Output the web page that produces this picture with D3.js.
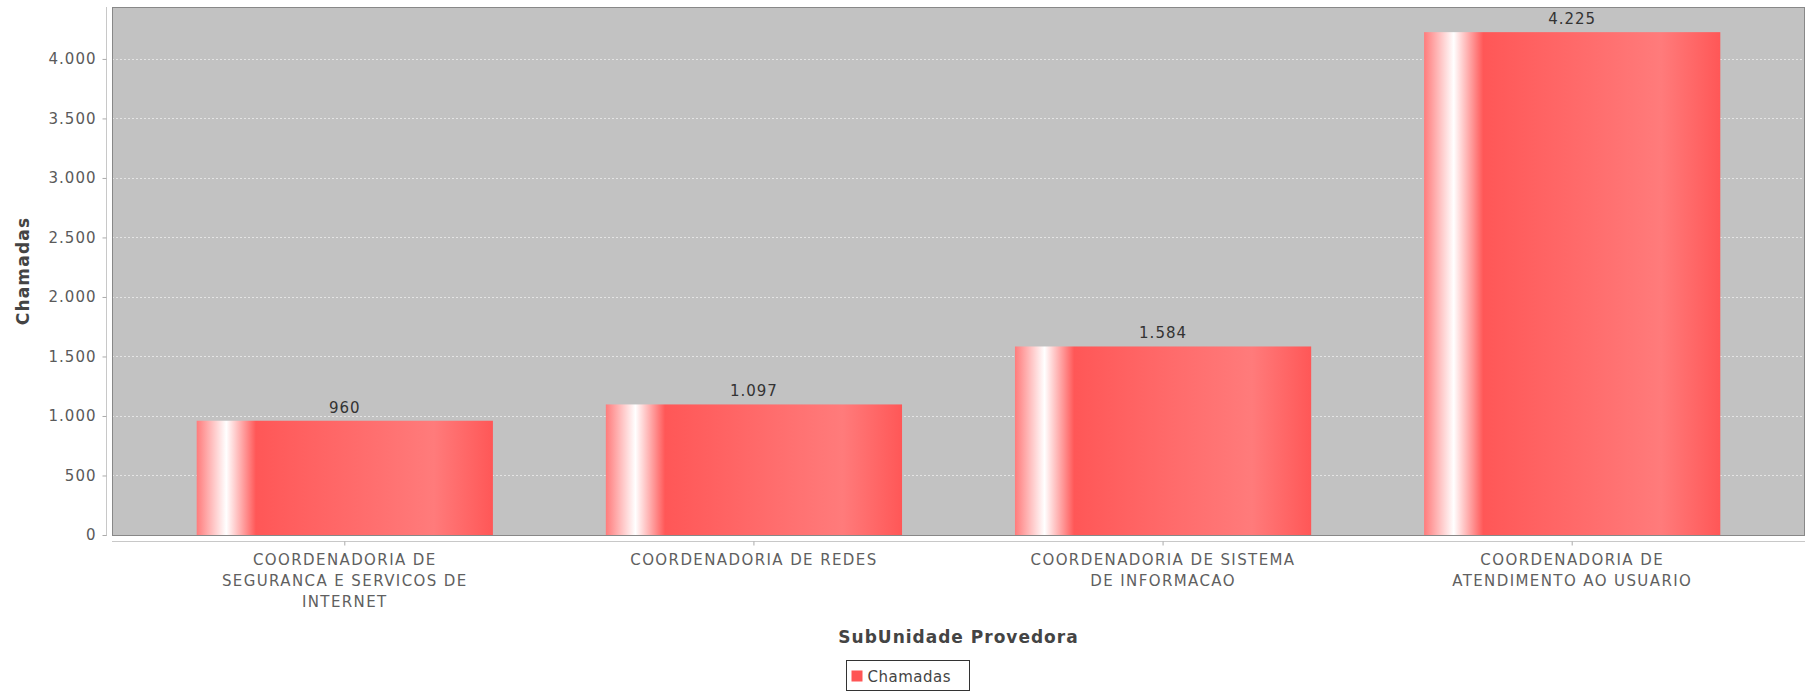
<!DOCTYPE html>
<html>
<head>
<meta charset="utf-8">
<script src="https://cdn.jsdelivr.net/npm/d3@7"></script>
<style>
  body { margin: 0; background: #fff; }
  text { font-family: "DejaVu Sans", sans-serif; }
</style>
</head>
<body>
<svg id="chart" width="1810" height="691"></svg>
<script>
// data
var categories = [
	["COORDENADORIA DE", "SEGURANCA E SERVICOS DE", "INTERNET"],
	["COORDENADORIA DE REDES"],
	["COORDENADORIA DE SISTEMA", "DE INFORMACAO"],
	["COORDENADORIA DE", "ATENDIMENTO AO USUARIO"]
];
var chamadas = [960, 1097, 1584, 4225];
var yTicks = [0, 500, 1000, 1500, 2000, 2500, 3000, 3500, 4000];
var seriesName = "Chamadas";
var xTitle = "SubUnidade Provedora";
var yTitle = "Chamadas";

var svg = d3.select("#chart"),
	plotLeft = 112, plotRight = 1805, plotTop = 7, plotBottom = 535;

var fmt = function(v) { return d3.format(",")(v).replace(/,/g, "."); };

var x = d3.scaleBand()
	.domain(d3.range(categories.length))
	.range([plotLeft, plotRight])
	.paddingInner(0.276)
	.paddingOuter(0.207);

var y = d3.scaleLinear()
	.domain([0, d3.max(chamadas) * 1.05])
	.range([plotBottom, plotTop]);

// bar gradient (jfreechart style)
var defs = svg.append("defs");
var grad = defs.append("linearGradient").attr("id", "barGrad")
	.attr("x1", "0").attr("x2", "1").attr("y1", "0").attr("y2", "0");
[[0, "#ff7b7b"], [0.1, "#ffffff"], [0.2, "#ff5757"], [0.8, "#ff7b7b"], [1, "#ff5757"]]
	.forEach(function(s) {
		grad.append("stop").attr("offset", s[0]).attr("stop-color", s[1]);
	});

// plot background
svg.append("rect")
	.attr("x", plotLeft).attr("y", plotTop)
	.attr("width", plotRight - plotLeft).attr("height", plotBottom - plotTop)
	.attr("fill", "#c2c2c2");

// gridlines
svg.append("g").selectAll("line")
	.data(yTicks.filter(function(d) { return d > 0; }))
	.enter().append("line")
		.attr("x1", plotLeft).attr("x2", plotRight)
		.attr("y1", function(d) { return Math.round(y(d)) + 0.5; })
		.attr("y2", function(d) { return Math.round(y(d)) + 0.5; })
		.attr("stroke", "#e4e4e4")
		.attr("stroke-width", 1)
		.attr("stroke-dasharray", "2,2");

// bars
svg.append("g").selectAll("rect")
	.data(chamadas)
	.enter().append("rect")
		.attr("x", function(d, i) { return x(i); })
		.attr("y", function(d) { return y(d); })
		.attr("width", x.bandwidth())
		.attr("height", function(d) { return plotBottom - y(d); })
		.attr("fill", "url(#barGrad)");

// value labels
svg.append("g").selectAll("text")
	.data(chamadas)
	.enter().append("text")
		.attr("x", function(d, i) { return x(i) + x.bandwidth() / 2; })
		.attr("y", function(d) { return y(d) - 8; })
		.attr("text-anchor", "middle")
		.attr("font-size", "15px")
		.attr("letter-spacing", "1px")
		.attr("fill", "#333")
		.text(fmt);

// plot outline
svg.append("rect")
	.attr("x", plotLeft + 0.5).attr("y", plotTop + 0.5)
	.attr("width", plotRight - plotLeft - 1).attr("height", plotBottom - plotTop)
	.attr("fill", "none")
	.attr("stroke", "#888");

// y axis
var yAxis = svg.append("g")
	.attr("transform", "translate(106.5,0)")
	.call(d3.axisLeft(y).tickValues(yTicks).tickSize(4).tickPadding(6).tickFormat(fmt));
yAxis.select(".domain").attr("stroke", "#c8c8c8").attr("d", "M0," + plotTop + "V" + (plotBottom + 1));
yAxis.selectAll(".tick line").attr("stroke", "#aaa");
yAxis.selectAll(".tick text")
	.attr("font-size", "15px")
	.attr("letter-spacing", "1px")
	.attr("fill", "#5a5a5a")
	.attr("font-family", "DejaVu Sans");

// x axis
var xAxis = svg.append("g").attr("transform", "translate(0,541.5)");
xAxis.append("line")
	.attr("x1", plotLeft).attr("x2", plotRight)
	.attr("stroke", "#c8c8c8");
xAxis.selectAll(".tk")
	.data(categories)
	.enter().append("line")
		.attr("x1", function(d, i) { return x(i) + x.bandwidth() / 2; })
		.attr("x2", function(d, i) { return x(i) + x.bandwidth() / 2; })
		.attr("y1", 0).attr("y2", 4)
		.attr("stroke", "#aaa");

var catText = xAxis.selectAll(".cat")
	.data(categories)
	.enter().append("text")
		.attr("class", "cat")
		.attr("text-anchor", "middle")
		.attr("font-size", "15px")
		.attr("letter-spacing", "1.4px")
		.attr("fill", "#606060")
		.attr("x", function(d, i) { return x(i) + x.bandwidth() / 2; });
catText.selectAll("tspan")
	.data(function(d) { return d; })
	.enter().append("tspan")
		.attr("x", function() { return d3.select(this.parentNode).attr("x"); })
		.attr("y", function(d, j) { return 23 + j * 21; })
		.text(function(d) { return d; });

// axis titles
svg.append("text")
	.attr("x", (plotLeft + plotRight) / 2)
	.attr("y", 643)
	.attr("text-anchor", "middle")
	.attr("font-size", "17px")
	.attr("font-weight", "bold")
	.attr("letter-spacing", "1px")
	.attr("fill", "#444")
	.text(xTitle);

svg.append("text")
	.attr("transform", "translate(29," + ((plotTop + plotBottom) / 2) + ") rotate(-90)")
	.attr("text-anchor", "middle")
	.attr("font-size", "17px")
	.attr("font-weight", "bold")
	.attr("letter-spacing", "1.2px")
	.attr("fill", "#444")
	.text(yTitle);

// legend
var legend = svg.append("g").attr("transform", "translate(846.5,660.5)");
legend.append("rect")
	.attr("width", 123).attr("height", 30)
	.attr("fill", "#fff")
	.attr("stroke", "#333");
legend.append("rect")
	.attr("x", 5).attr("y", 10).attr("width", 11).attr("height", 11)
	.attr("fill", "#ff5555");
legend.append("text")
	.attr("x", 21).attr("y", 21)
	.attr("font-size", "15px")
	.attr("letter-spacing", "0.5px")
	.attr("fill", "#444")
	.text(seriesName);
</script>
</body>
</html>
